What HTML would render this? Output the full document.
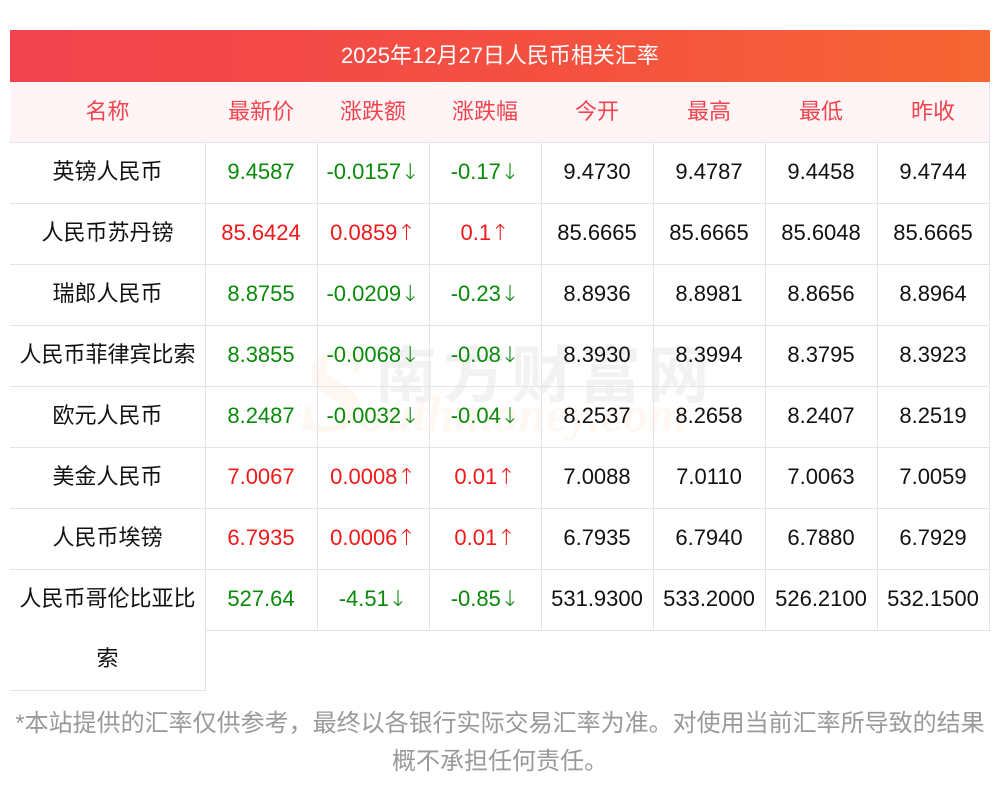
<!DOCTYPE html>
<html><head><meta charset="utf-8"><style>
body{margin:0;width:1000px;height:793px;background:#fff;position:relative;font-family:"Liberation Sans","Noto Sans CJK SC",sans-serif;overflow:hidden}
.t{position:absolute;left:10px;top:30px;width:980px;height:52px;background:linear-gradient(90deg,#f2434f,#f4523f 60%,#f66633);color:#fff;font-size:22px;line-height:52px;text-align:center}
.c{position:absolute;text-align:center;font-size:22px;box-sizing:border-box;border-right:1px solid #e3e3ea;border-bottom:1px solid #e3e3ea;line-height:60px;white-space:nowrap}
.h{background:#fff5f6;color:#f0444f}
.g{color:#0a8a0a}.r{color:#f01818}.k{color:#111}
.n{position:absolute;left:0;width:1000px;text-align:center;font-size:24px;color:#999;line-height:36px;white-space:nowrap}
.wm{position:absolute;font-weight:bold;opacity:.07}
</style></head><body>
<div class="t">2025年12月27日人民币相关汇率</div>
<div class="wm" style="left:375px;top:325px;font-size:62px;color:#555;letter-spacing:6px">南方财富网</div>
<div class="wm" style="left:300px;top:322px;font-size:120px;color:#f7a050;font-style:italic;font-family:'Liberation Serif',serif">S</div>
<div class="wm" style="left:360px;top:385px;font-size:50px;color:#f7a050;font-style:italic;font-family:'Liberation Serif',serif">outhmoney.com</div>
<div id="tb"></div>
<div class="n" style="top:706px">*本站提供的汇率仅供参考，最终以各银行实际交易汇率为准。对使用当前汇率所导致的结果</div>
<div class="n" style="top:744px">概不承担任何责任。</div>
<script>
var xs=[10,205,317,429,541,653,765,877,989];
var H=["名称","最新价","涨跌额","涨跌幅","今开","最高","最低","昨收"];
var D=[
["英镑人民币","9.4587","-0.0157↓","-0.17↓","9.4730","9.4787","9.4458","9.4744","g"],
["人民币苏丹镑","85.6424","0.0859↑","0.1↑","85.6665","85.6665","85.6048","85.6665","r"],
["瑞郎人民币","8.8755","-0.0209↓","-0.23↓","8.8936","8.8981","8.8656","8.8964","g"],
["人民币菲律宾比索","8.3855","-0.0068↓","-0.08↓","8.3930","8.3994","8.3795","8.3923","g"],
["欧元人民币","8.2487","-0.0032↓","-0.04↓","8.2537","8.2658","8.2407","8.2519","g"],
["美金人民币","7.0067","0.0008↑","0.01↑","7.0088","7.0110","7.0063","7.0059","r"],
["人民币埃镑","6.7935","0.0006↑","0.01↑","6.7935","6.7940","6.7880","6.7929","r"],
["人民币哥伦比亚比索","527.64","-4.51↓","-0.85↓","531.9300","533.2000","526.2100","532.1500","g"]];
var s="";
function cell(i,y,h,txt,cls){s+='<div class="c '+cls+'" style="left:'+xs[i]+'px;top:'+y+'px;width:'+(xs[i+1]-xs[i]+1)+'px;height:'+h+'px">'+txt.replace(/([↓↑])/,'<span style="font-family:\'DejaVu Sans\',sans-serif;font-weight:300">$1</span>')+'</div>';}
for(var i=0;i<8;i++)cell(i,82,61,H[i],"h");
for(var r=0;r<8;r++){var y=142+61*r;for(var i=0;i<8;i++){var cls=(i==0||i>3)?"k":D[r][8];
if(r==7&&i==0){s+='<div class="c k" style="left:10px;top:'+y+'px;width:196px;height:122px;line-height:60px;white-space:normal;padding:0 6px">'+D[r][0]+'</div>';}
else cell(i,y,62,D[r][i],cls);}}
document.getElementById("tb").innerHTML=s;
</script>
</body></html>
